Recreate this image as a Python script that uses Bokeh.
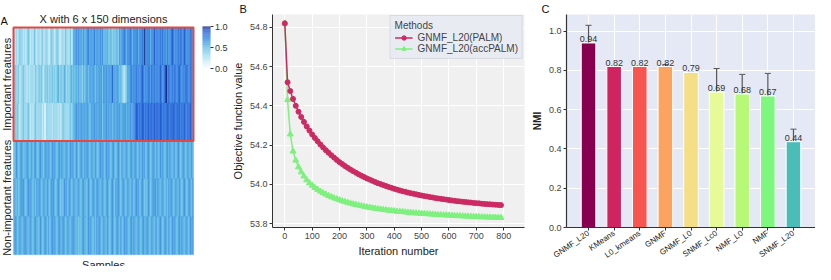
import math
from bokeh.plotting import figure
from bokeh.layouts import row
from bokeh.models import (ColumnDataSource, LinearColorMapper, FixedTicker, Label,
                          FactorRange, Range1d, Whisker, TeeHead, PrintfTickFormatter)
from bokeh.transform import transform
from bokeh.core.properties import value
from bokeh.embed import file_html
from bokeh.resources import INLINE

FONT = "Liberation Sans"

# ---------------- Panel A data (6 x 150 heatmap, digits d -> value d/9, rows top to bottom)
heat_title = "X with 6 x 150 dimensions"
group_labels = ["Important freatures", "Non-important freatures"]
heat_rows = [
    "3232343323" "2343232432" "3323423332" "2433234322" "3324332423"
    "6565756465" "5675665756" "6565745454" "4534445365" "6676576765"
    "7667576769" "6767576867" "7676867576" "6787676768" "7687676776",
    "3433423343" "3232333243" "3434324343" "4343434534" "4354343454"
    "5454645354" "5645656546" "5656475656" "6585656545" "4323465676"
    "7676767876" "7677686767" "7687678968" "7676876787" "6767876776",
    "3434323343" "3343232343" "3333230333" "3323333232" "3433333434"
    "5565656556" "5654565656" "5656465656" "5645656565" "5656565656"
    "6788787887" "8787887878" "8788787788" "7878878787" "8787787876",
    "5465456545" "5654564565" "4565546556" "5465654565" "6545654656"
    "5465456546" "5654565465" "4565654656" "5456545654" "6545654565"
    "5654564656" "4565456546" "5465654565" "6545645654" "5654565465",
    "6545456565" "4565654546" "5654565465" "4656545654" "5465646545"
    "6545654565" "5465456546" "6545654565" "4565465654" "5654565456"
    "4565645654" "5465456565" "6545654546" "5654565465" "4565456546",
    "5654565456" "6545654565" "5465456546" "4565654565" "5654565456"
    "6545454565" "5465654546" "5654565465" "4565456546" "5465654565"
    "6545654565" "5654565456" "4565456546" "5465654565" "6545654656",
]
n_important = 3
samples_label = "Samples"
cbar_ticks = [0.0, 0.5, 1.0]

# ---------------- Panel B data
iterations = list(range(0, 800, 10))
palm = [54.82, 54.52, 54.475, 54.435, 54.400, 54.370, 54.343, 54.318, 54.295, 54.274,
        54.254, 54.236, 54.219, 54.203, 54.188, 54.174, 54.161, 54.148, 54.136, 54.124,
        54.113, 54.103, 54.093, 54.084, 54.075, 54.067, 54.059, 54.051, 54.044, 54.037,
        54.030, 54.024, 54.018, 54.012, 54.006, 54.001, 53.996, 53.991, 53.986, 53.982,
        53.977, 53.973, 53.969, 53.965, 53.962, 53.958, 53.955, 53.952, 53.949, 53.946,
        53.943, 53.940, 53.938, 53.935, 53.933, 53.930, 53.928, 53.926, 53.924, 53.922,
        53.920, 53.918, 53.916, 53.914, 53.913, 53.911, 53.910, 53.908, 53.907, 53.905,
        53.904, 53.903, 53.901, 53.900, 53.899, 53.898, 53.897, 53.896, 53.895, 53.894]
accpalm = [54.82, 54.43, 54.255, 54.168, 54.122, 54.088, 54.062, 54.041, 54.022, 54.007,
           53.994, 53.983, 53.973, 53.964, 53.956, 53.949, 53.942, 53.936, 53.930, 53.925,
           53.920, 53.915, 53.911, 53.907, 53.903, 53.899, 53.896, 53.893, 53.890, 53.887,
           53.884, 53.882, 53.879, 53.877, 53.875, 53.873, 53.871, 53.869, 53.867, 53.866,
           53.864, 53.862, 53.861, 53.860, 53.858, 53.857, 53.856, 53.854, 53.853, 53.852,
           53.851, 53.850, 53.849, 53.848, 53.847, 53.846, 53.845, 53.844, 53.843, 53.843,
           53.842, 53.841, 53.840, 53.839, 53.839, 53.838, 53.837, 53.837, 53.836, 53.835,
           53.835, 53.834, 53.833, 53.833, 53.832, 53.832, 53.831, 53.831, 53.830, 53.830]
series_names = ["GNMF_L20(PALM)", "GNMF_L20(accPALM)"]
b_yticks = [53.8, 54.0, 54.2, 54.4, 54.6, 54.8]
b_xticks = [0, 100, 200, 300, 400, 500, 600, 700, 800]

# ---------------- Panel C data
methods = ["GNMF_L20", "KMeans", "L0_kmeans", "GNMF", "GNMF_L0", "SNMF_Lc0", "NMF_L0", "NMF", "SNMF_L20"]
nmi = [0.94, 0.82, 0.82, 0.82, 0.79, 0.69, 0.68, 0.67, 0.437]
nmi_err = [0.09, 0.0, 0.0, 0.01, 0.0, 0.12, 0.10, 0.115, 0.064]
bar_colors = ["#86004f", "#cf2460", "#f6564f", "#fba35f", "#f4df86", "#e6fb97", "#b5f977", "#7ef77f", "#4bbdb8"]
c_yticks = [0.0, 0.2, 0.4, 0.6, 0.8, 1.0]


def hex2rgb(h):
    return tuple(int(h[i:i + 2], 16) for i in (1, 3, 5))


anchors = [(0.0, "#f7fcff"), (0.15, "#d2f0f8"), (0.3, "#a6def0"), (0.45, "#6cc4e6"),
           (0.55, "#55b2e3"), (0.65, "#449ae2"), (0.75, "#3584e2"), (0.85, "#2a6cde"),
           (0.92, "#1f55cc"), (1.0, "#0a1e80")]
palette = []
for i in range(256):
    t = i / 255
    for (t0, c0), (t1, c1) in zip(anchors[:-1], anchors[1:]):
        if t0 <= t <= t1:
            f = (t - t0) / (t1 - t0)
            a, b = hex2rgb(c0), hex2rgb(c1)
            palette.append("#%02x%02x%02x" % tuple(round(a[k] + f * (b[k] - a[k])) for k in range(3)))
            break

H = 266
txt = dict(text_font=FONT, text_color="#222222", text_font_size="11px")

# ================= Panel A (no axes; frame covers the whole panel; texts drawn inside) =================
n_rows = len(heat_rows)
n_cols = len(heat_rows[0])
left, right, bottom, top, val = [], [], [], [], []
for r, s in enumerate(heat_rows):
    for c, ch in enumerate(s):
        left.append(c)
        right.append(c + 1)
        bottom.append(n_rows - 1 - r)
        top.append(n_rows - r)
        val.append(int(ch) / 9)
heat_src = ColumnDataSource(dict(left=left, right=right, bottom=bottom, top=top, v=val))
mapper = LinearColorMapper(palette=palette, low=0, high=1)

A_W = 228
hm_l, hm_r, hm_t, hm_b = 13, 193, 13, 240  # heatmap box inside panel A, in px
ux = n_cols / (hm_r - hm_l)
uy = n_rows / (hm_b - hm_t)
xa = Range1d(-hm_l * ux, n_cols + (A_W - hm_r) * ux)
ya = Range1d(-(H - hm_b) * uy, n_rows + hm_t * uy)
pa = figure(frame_width=A_W, frame_height=H, x_range=xa, y_range=ya,
            x_axis_location=None, y_axis_location=None,
            output_backend="svg", toolbar_location=None,
            min_border_left=0, min_border_right=0, min_border_top=0, min_border_bottom=0)
pa.quad(left="left", right="right", bottom="bottom", top="top", source=heat_src,
        fill_color=transform("v", mapper), line_color=transform("v", mapper), line_width=0.4)
pa.quad(left=[0], right=[n_cols], bottom=[n_rows - n_important], top=[n_rows],
        fill_color=None, line_color="#e8463f", line_width=2)
pa.grid.visible = False
pa.outline_line_color = None

# colour bar drawn with the same palette (bar box in px inside panel A)
cb_l, cb_r, cb_t, cb_b = hm_r + 9, hm_r + 17, hm_t - 1, hm_t + 41
nstep = 64
cb_x0, cb_x1 = xa.start + cb_l * ux, xa.start + cb_r * ux
cb_y1, cb_y0 = ya.end - cb_t * uy, ya.end - cb_b * uy
steps = [i / (nstep - 1) for i in range(nstep)]
dy = (cb_y1 - cb_y0) / nstep
pa.quad(left=cb_x0, right=cb_x1, bottom=[cb_y0 + i * dy for i in range(nstep)],
        top=[cb_y0 + (i + 1) * dy for i in range(nstep)],
        fill_color=[palette[round(s * 255)] for s in steps], line_color=None)
tick_y = [cb_y0 + t * (cb_y1 - cb_y0) for t in cbar_ticks]
pa.segment(x0=cb_x1, x1=cb_x1 + 3 * ux, y0=tick_y, y1=tick_y, line_color="#333333", line_width=1)
pa.text(x=cb_x1 + 4.5 * ux, y=tick_y, text=["%.1f" % t for t in cbar_ticks], text_baseline="middle",
        text_font=value(FONT), text_font_size="9px", text_color="#333333")

pa.add_layout(Label(x=n_cols / 2, y=n_rows + 3 * uy, text=heat_title, text_align="center",
                    text_baseline="bottom", **txt))
pa.add_layout(Label(x=n_cols / 2, y=-4 * uy, text=samples_label, text_align="center",
                    text_baseline="top", **txt))
pa.add_layout(Label(x=xa.start + 6 * ux, y=n_rows - n_important / 2, text=group_labels[0], angle=math.pi / 2,
                    text_align="center", text_baseline="middle", **txt))
pa.add_layout(Label(x=xa.start + 6 * ux, y=(n_rows - n_important) / 2, text=group_labels[1], angle=math.pi / 2,
                    text_align="center", text_baseline="middle", **txt))
pa.add_layout(Label(x=xa.start, y=ya.end, text="A", text_baseline="top",
                    text_font=FONT, text_color="#111111", text_font_size="11px"))

# ================= Panel B =================
pb = figure(width=300, height=H, x_range=Range1d(-45, 876), y_range=Range1d(53.78, 54.865),
            output_backend="svg", toolbar_location=None,
            min_border_left=38, min_border_right=4, min_border_top=14, min_border_bottom=32)
pb.title.text = "B"
pb.title.align = "left"
pb.title.offset = -33
pb.title.standoff = 0
pb.title.text_font = FONT
pb.title.text_font_size = "11px"
pb.title.text_font_style = "normal"
pb.title.text_color = "#111111"
pb.background_fill_color = "#f0f0f0"
pb.outline_line_color = None
pb.grid.grid_line_color = "white"
pb.grid.grid_line_width = 1
pb.line(iterations, accpalm, color="#7ef07e", line_width=1.5, legend_label=series_names[1])
pb.scatter(iterations, accpalm, marker="triangle", size=6, color="#7ef07e", legend_label=series_names[1])
pb.line(iterations, palm, color="#cc2a62", line_width=1.5, legend_label=series_names[0])
pb.scatter(iterations, palm, marker="circle", size=5, color="#cc2a62", legend_label=series_names[0])
pb.xaxis.ticker = FixedTicker(ticks=b_xticks)
pb.yaxis.ticker = FixedTicker(ticks=b_yticks)
pb.yaxis.formatter = PrintfTickFormatter(format="%.1f")
for ax in (pb.xaxis[0], pb.yaxis[0]):
    ax.axis_line_color = "#333333"
    ax.major_tick_line_color = "#333333"
    ax.major_tick_out = 3
    ax.major_tick_in = 0
    ax.minor_tick_line_color = None
    ax.major_label_text_font_size = "9px"
    ax.major_label_text_font = FONT
    ax.major_label_text_color = "#444444"
    ax.major_label_standoff = 2
    ax.axis_label_text_font_size = "11px"
    ax.axis_label_text_font_style = "normal"
    ax.axis_label_text_font = FONT
    ax.axis_label_text_color = "#222222"
    ax.axis_label_standoff = 3
pb.xaxis.axis_label = "Iteration number"
pb.yaxis.axis_label = "Objective function value"
leg = pb.legend[0]
leg.items = [leg.items[1], leg.items[0]]
leg.location = "top_right"
leg.title = "Methods"
leg.title_text_font_size = "10px"
leg.title_text_font = FONT
leg.title_text_font_style = "normal"
leg.title_standoff = 1
leg.label_text_font_size = "10px"
leg.label_text_font = FONT
leg.label_height = 11
leg.glyph_height = 11
leg.glyph_width = 18
leg.spacing = 0
leg.padding = 4
leg.margin = 1
leg.background_fill_color = "#e9ebf3"
leg.background_fill_alpha = 1
leg.border_line_color = "#c8c8d0"

# ================= Panel C =================
c_src = ColumnDataSource(dict(method=methods, nmi=nmi, color=bar_colors,
                              upper=[v + e for v, e in zip(nmi, nmi_err)],
                              lower=[v - e for v, e in zip(nmi, nmi_err)],
                              label=["%.2f" % v for v in nmi]))
pc = figure(width=287, height=H,
            x_range=FactorRange(factors=methods, range_padding=0.36, range_padding_units="absolute"),
            y_range=Range1d(0, 1.085), output_backend="svg", toolbar_location=None,
            min_border_left=31, min_border_right=0, min_border_top=14, min_border_bottom=36)
pc.title.text = "C"
pc.title.align = "left"
pc.title.offset = -25
pc.title.standoff = 0
pc.title.text_font = FONT
pc.title.text_font_size = "11px"
pc.title.text_font_style = "normal"
pc.title.text_color = "#111111"
pc.background_fill_color = "#e5e9f6"
pc.outline_line_color = None
pc.grid.grid_line_color = "white"
pc.grid.grid_line_width = 1
pc.vbar(x="method", top="nmi", width=0.57, fill_color="color", line_color="white", line_width=1, source=c_src)
pc.add_layout(Whisker(source=c_src, base="method", upper="upper", lower="lower", line_color="#555555",
                      line_width=1.2,
                      upper_head=TeeHead(size=6, line_color="#555555", line_width=1),
                      lower_head=TeeHead(size=6, line_color="#555555", line_width=1)))
pc.text(x="method", y="nmi", text="label", source=c_src, text_align="center", text_baseline="bottom",
        y_offset=-1, text_font_size="9px", text_font=value(FONT), text_color="#333333")
pc.yaxis.ticker = FixedTicker(ticks=c_yticks)
pc.yaxis.formatter = PrintfTickFormatter(format="%.1f")
for ax in (pc.xaxis[0], pc.yaxis[0]):
    ax.axis_line_color = "#333333"
    ax.axis_line_width = 1.2
    ax.major_tick_line_color = "#333333"
    ax.major_tick_out = 3
    ax.major_tick_in = 0
    ax.minor_tick_line_color = None
    ax.major_label_text_font = FONT
    ax.major_label_standoff = 2
pc.yaxis.major_label_text_font_size = "9px"
pc.yaxis.major_label_text_color = "#444444"
pc.xaxis.major_label_text_font_size = "8px"
pc.xaxis.major_label_text_color = "#222222"
pc.xaxis.major_label_orientation = 0.6
pc.yaxis.axis_label = "NMI"
pc.yaxis.axis_label_text_font_size = "10px"
pc.yaxis.axis_label_text_font_style = "bold"
pc.yaxis.axis_label_text_font = FONT
pc.yaxis.axis_label_text_color = "#222222"
pc.yaxis.axis_label_standoff = 3

layout = row(pa, pb, pc, spacing=0)
open("out.html", "w").write(file_html(layout, INLINE))
